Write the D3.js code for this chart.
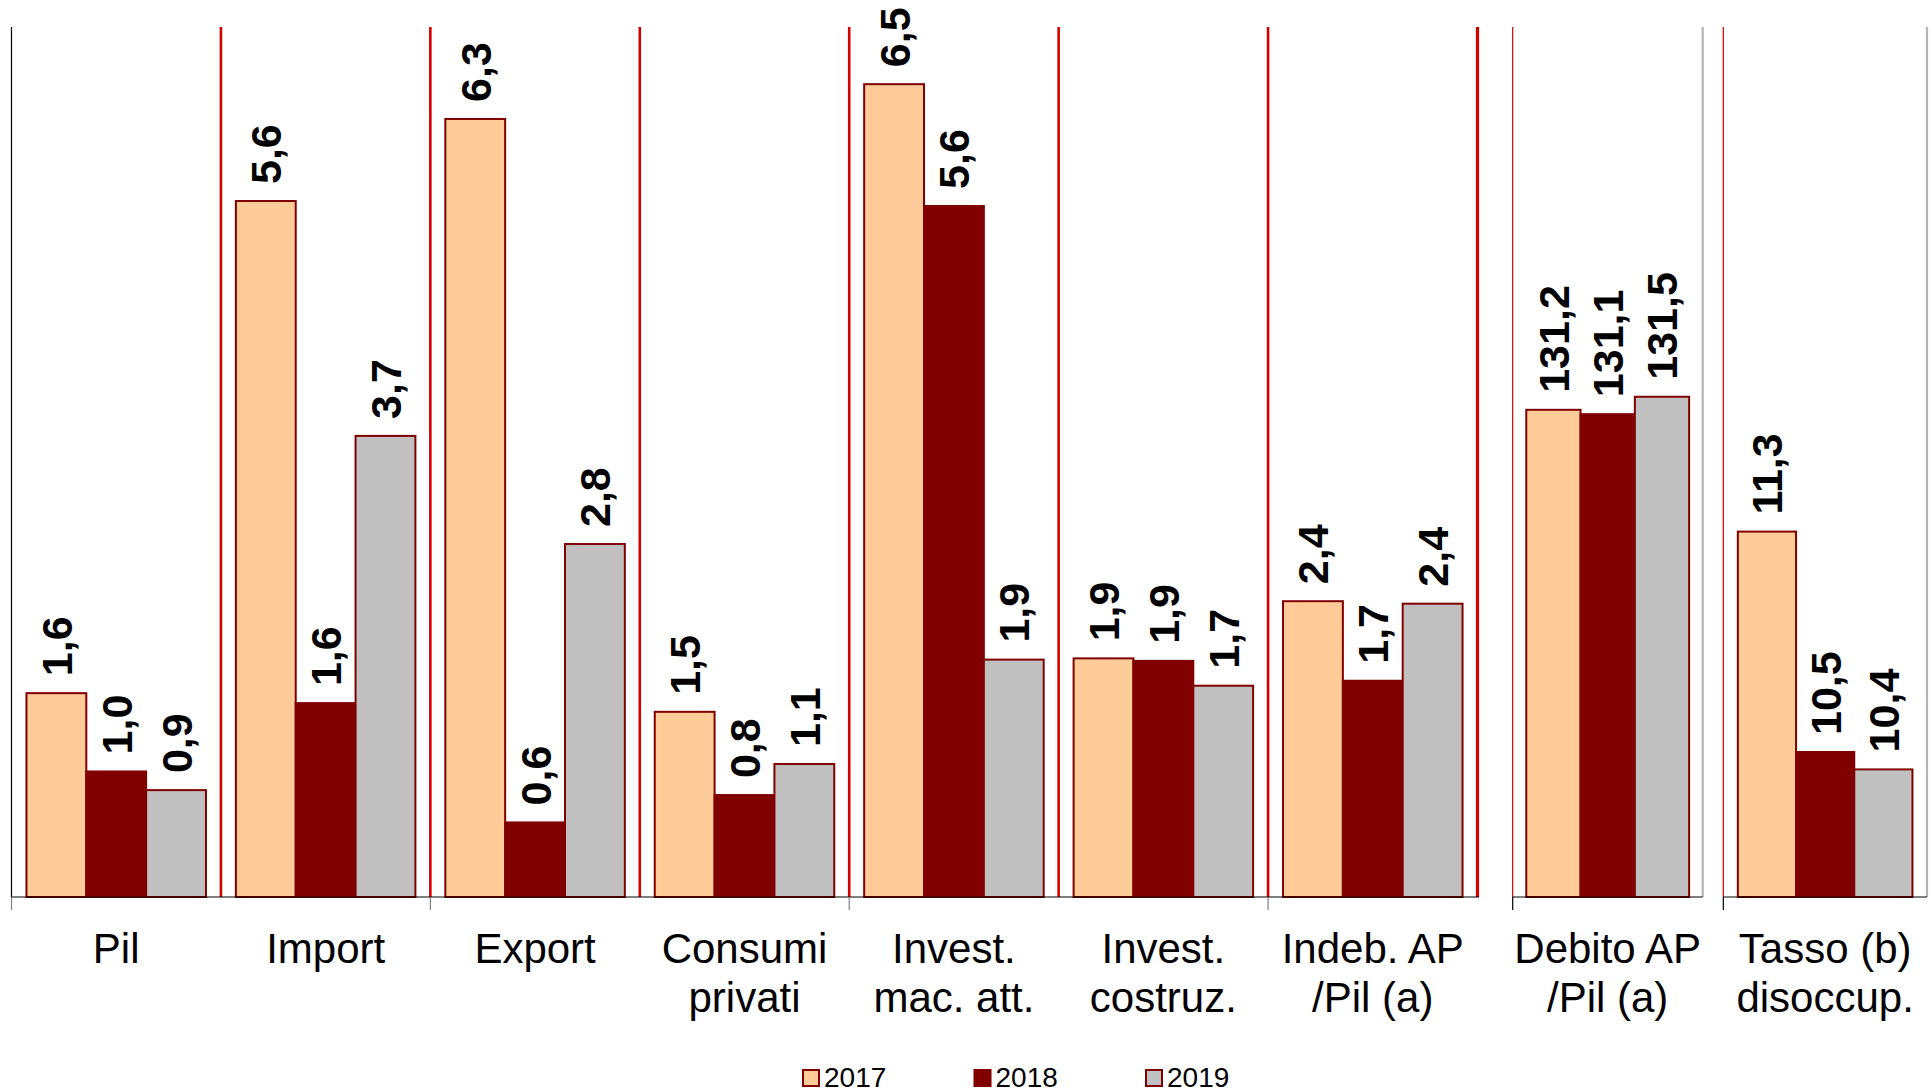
<!DOCTYPE html>
<html><head><meta charset="utf-8">
<script src="https://cdn.jsdelivr.net/npm/d3@7"></script>
<style>body{margin:0;background:#fff}svg{display:block}</style>
</head><body>
<svg id="c" width="1932" height="1092"></svg>
<script>
// ---------- data ----------
const series = ["2017", "2018", "2019"];
const growthCategories = [["Pil"], ["Import"], ["Export"], ["Consumi", "privati"], ["Invest.", "mac. att."], ["Invest.", "costruz."], ["Indeb. AP", "/Pil (a)"]];
const growth2017 = [1.64, 5.60, 6.26, 1.49, 6.54, 1.92, 2.38];
const growth2018 = [1.01, 1.56, 0.60, 0.82, 5.56, 1.90, 1.74];
const growth2019 = [0.86, 3.71, 2.84, 1.07, 1.91, 1.70, 2.36];
const debtCategories = [["Debito AP", "/Pil (a)"]];
const debtValues = [131.2, 131.1, 131.5];
const unempCategories = [["Tasso (b)", "disoccup."]];
const unempValues = [11.26, 10.50, 10.44];
const growthDomain = [0, 7];
const debtDomain = [120, 140];
const unempDomain = [10, 13];

// ---------- style ----------
const fills = ["#FFCC99", "#800000", "#C0C0C0"];
const barStroke = "#800000";
const FONT = "'Liberation Sans', Arial, Helvetica, sans-serif";
const locale = d3.formatLocale({decimal: ",", thousands: ".", grouping: [3], currency: ["", "€"]});
const fmt = locale.format(".1f");

const svg = d3.select("#c");
const plotTop = 27, plotBase = 897;

function panel(opt) {
  const g = svg.append("g");
  const x = d3.scaleBand().domain(opt.cats.map((d, i) => i)).range([opt.x0, opt.x1]).padding(0);
  const xs = d3.scaleBand().domain(series).range([0, x.bandwidth()]).paddingInner(0).paddingOuter(0.25);
  const y = d3.scaleLinear().domain(opt.domain).range([plotBase, plotTop]);

  if (opt.grid) {
    opt.cats.forEach((c, i) => {
      const xx = x(i) + x.bandwidth();
      g.append("line").attr("x1", xx).attr("x2", xx).attr("y1", plotTop).attr("y2", plotBase)
        .attr("stroke", "#D40000").attr("stroke-width", i === opt.cats.length - 1 ? 3.2 : 2.6);
    });
  }
  g.append("line").attr("x1", opt.x0).attr("x2", opt.x0).attr("y1", plotTop).attr("y2", plotBase)
    .attr("stroke", opt.leftColor).attr("stroke-width", 1.2);
  if (opt.rightColor) {
    g.append("line").attr("x1", opt.x1).attr("x2", opt.x1).attr("y1", plotTop).attr("y2", plotBase)
      .attr("stroke", opt.rightColor).attr("stroke-width", 2.2);
  }

  opt.cats.forEach((c, i) => {
    const vals = opt.values[i];
    series.forEach((s, j) => {
      const v = vals[j];
      const bx = x(i) + xs(s), bw = xs.bandwidth();
      g.append("rect").attr("x", bx).attr("y", y(v)).attr("width", bw).attr("height", plotBase - y(v))
        .attr("fill", fills[j]).attr("stroke", barStroke).attr("stroke-width", 2);
    });
    series.forEach((s, j) => {
      const v = vals[j];
      const cx = x(i) + xs(s) + xs.bandwidth() / 2;
      const ty = y(v) - 17;
      g.append("text").attr("transform", `translate(${cx},${ty}) rotate(-90)`)
        .attr("dy", "0.36em").attr("text-anchor", "start")
        .attr("font-family", FONT).attr("font-weight", "bold").attr("font-size", 43)
        .attr("fill", "#000").text(fmt(v));
    });
    const t = g.append("text").attr("text-anchor", "middle").attr("font-family", FONT)
      .attr("font-size", 42).attr("fill", "#000");
    c.forEach((line, k) => {
      t.append("tspan").attr("x", x(i) + x.bandwidth() / 2).attr("y", 963 + k * 49).text(line);
    });
  });

  g.append("line").attr("x1", opt.x0).attr("x2", opt.x1 + (opt.grid ? 1.5 : 0)).attr("y1", plotBase).attr("y2", plotBase)
    .attr("stroke", "#000").attr("stroke-width", 1.2);
  opt.ticks.forEach(i => {
    const xx = i === opt.cats.length ? opt.x1 : x(i);
    g.append("line").attr("x1", xx).attr("x2", xx).attr("y1", plotBase).attr("y2", plotBase + 13)
      .attr("stroke", opt.tickColor).attr("stroke-width", 1.2);
  });
}

panel({
  x0: 11.5, x1: 1477.5, cats: growthCategories,
  values: growthCategories.map((c, i) => [growth2017[i], growth2018[i], growth2019[i]]),
  domain: growthDomain, grid: true, leftColor: "#000", rightColor: null,
  ticks: [0, 2, 4, 6], tickColor: "#808080"
});
panel({
  x0: 1512.7, x1: 1702.7, cats: debtCategories, values: [debtValues],
  domain: debtDomain, grid: false, leftColor: "#C00000", rightColor: "#B4B4B4",
  ticks: [0], tickColor: "#000"
});
panel({
  x0: 1723.3, x1: 1927, cats: unempCategories, values: [unempValues],
  domain: unempDomain, grid: false, leftColor: "#C00000", rightColor: "#B4B4B4",
  ticks: [0], tickColor: "#000"
});

const legendX = d3.scalePoint().domain(series).range([803, 1146]);
series.forEach((s, j) => {
  const lx = legendX(s);
  svg.append("rect").attr("x", lx).attr("y", 1070).attr("width", 16).attr("height", 16)
    .attr("fill", fills[j]).attr("stroke", barStroke).attr("stroke-width", 2);
  svg.append("text").attr("x", lx + 21).attr("y", 1086.5).attr("font-family", FONT)
    .attr("font-size", 28).attr("fill", "#000").text(s);
});
</script>
</body></html>
